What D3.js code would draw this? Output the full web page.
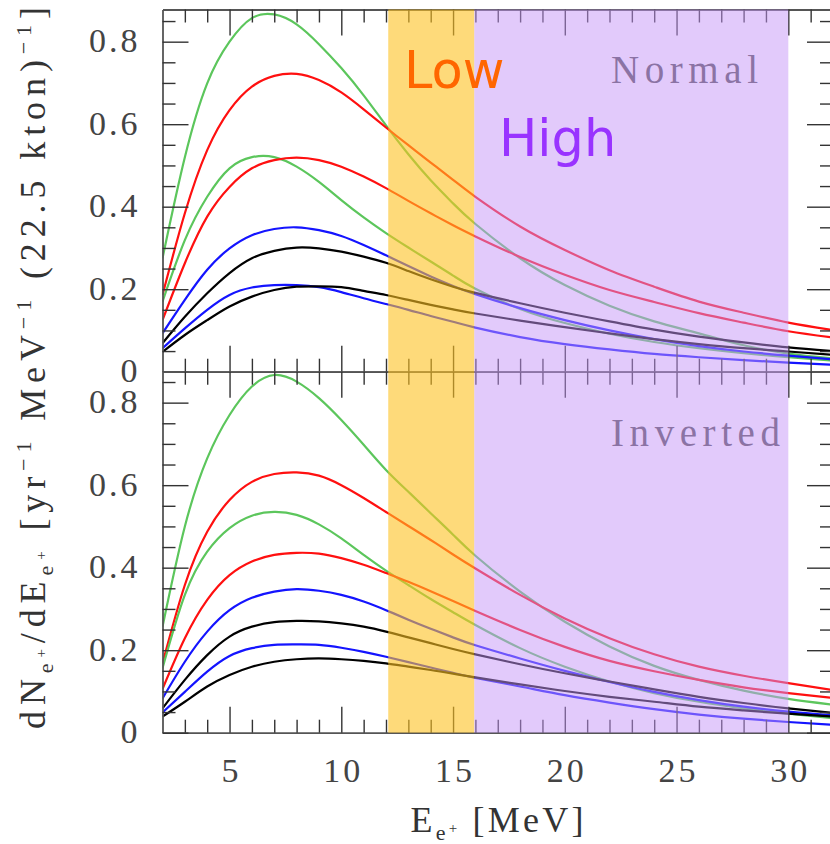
<!DOCTYPE html>
<html><head><meta charset="utf-8">
<script src="https://cdn.jsdelivr.net/npm/d3@7"></script>
<style>body{margin:0;background:#fff;} svg{display:block}</style>
</head><body>
<svg id="c" width="830" height="844"></svg>
<script>
// ---------------- data ----------------
const energies = [2,3,4,5,6,7,8,9,10,11,12,13,14,15,16,18,20,22,24,26,28,30,32];

// Normal hierarchy (top panel)
const nGreenA = [0.275,0.52,0.699,0.80,0.857,0.866,0.842,0.794,0.736,0.670,0.597,0.527,0.464,0.408,0.358,0.275,0.210,0.160,0.122,0.093,0.064,0.044,0.032];
const nRedA   = [0.186,0.384,0.537,0.634,0.691,0.717,0.722,0.707,0.677,0.636,0.592,0.549,0.507,0.465,0.424,0.352,0.295,0.246,0.206,0.170,0.143,0.119,0.101];
const nGreenB = [0.17,0.319,0.424,0.493,0.52,0.52,0.497,0.46,0.416,0.374,0.336,0.301,0.267,0.233,0.201,0.152,0.118,0.092,0.072,0.057,0.045,0.035,0.027];
const nRedB   = [0.125,0.263,0.376,0.448,0.493,0.513,0.519,0.513,0.497,0.473,0.445,0.414,0.384,0.355,0.328,0.278,0.235,0.198,0.169,0.142,0.119,0.098,0.083];
const nBlueA  = [0.093,0.174,0.247,0.299,0.331,0.346,0.35,0.343,0.329,0.307,0.282,0.256,0.231,0.208,0.188,0.154,0.125,0.100,0.079,0.062,0.049,0.039,0.030];
const nBlackA = [0.069,0.133,0.19,0.239,0.275,0.293,0.301,0.299,0.291,0.279,0.264,0.244,0.224,0.206,0.191,0.166,0.143,0.122,0.102,0.085,0.071,0.059,0.05];
const nBlueB  = [0.057,0.105,0.15,0.186,0.204,0.21,0.21,0.205,0.193,0.178,0.164,0.150,0.135,0.121,0.107,0.084,0.067,0.054,0.043,0.035,0.028,0.022,0.017];
const nBlackB = [0.048,0.089,0.125,0.158,0.182,0.198,0.206,0.207,0.205,0.196,0.186,0.174,0.162,0.151,0.141,0.124,0.108,0.093,0.079,0.067,0.057,0.049,0.041];

// Inverted hierarchy (bottom panel)
const iGreenA = [0.257,0.50,0.665,0.77,0.839,0.867,0.851,0.811,0.758,0.698,0.637,0.584,0.532,0.48,0.429,0.342,0.269,0.209,0.162,0.128,0.102,0.082,0.068];
const iRedA   = [0.168,0.358,0.487,0.564,0.608,0.627,0.631,0.623,0.60,0.569,0.535,0.501,0.467,0.432,0.398,0.334,0.277,0.229,0.19,0.16,0.138,0.12,0.103];
const iGreenB = [0.156,0.334,0.439,0.496,0.526,0.535,0.528,0.505,0.471,0.431,0.393,0.358,0.324,0.292,0.261,0.205,0.16,0.124,0.096,0.075,0.059,0.046,0.035];
const iRedB   = [0.106,0.229,0.322,0.382,0.415,0.431,0.436,0.434,0.423,0.407,0.387,0.366,0.343,0.319,0.295,0.249,0.208,0.174,0.149,0.128,0.11,0.096,0.084];
const iBlueA  = [0.083,0.172,0.245,0.297,0.327,0.342,0.348,0.344,0.334,0.318,0.297,0.274,0.252,0.231,0.212,0.18,0.15,0.123,0.099,0.079,0.063,0.051,0.042];
const iBlackA = [0.059,0.128,0.188,0.233,0.257,0.268,0.271,0.27,0.265,0.257,0.245,0.231,0.217,0.203,0.19,0.166,0.144,0.124,0.105,0.087,0.072,0.059,0.048];
const iBlueB  = [0.049,0.099,0.148,0.186,0.205,0.213,0.214,0.213,0.206,0.196,0.184,0.171,0.158,0.145,0.133,0.112,0.091,0.073,0.057,0.044,0.034,0.026,0.019];
const iBlackB = [0.039,0.075,0.112,0.14,0.16,0.172,0.178,0.18,0.178,0.174,0.168,0.16,0.152,0.143,0.134,0.117,0.101,0.087,0.075,0.063,0.054,0.046,0.039];

const xMajorTicks = [5,10,15,20,25,30];
const xMinorTicks = [3,4,6,7,8,9,11,12,13,14,16,17,18,19,21,22,23,24,26,27,28,29,31];
const yMajorTicks = [0,0.2,0.4,0.6,0.8];
const yTickLabels = ["0","0.2","0.4","0.6","0.8"];
const yMinorTicks = [0.05,0.1,0.15,0.25,0.3,0.35,0.45,0.5,0.55,0.65,0.7,0.75,0.85];
const xTickLabels = ["5","10","15","20","25","30"];

const lowBand = [12.1, 15.95];
const highBand = [15.95, 30];
const panelNames = ["Normal","Inverted"];

// ---------------- drawing ----------------
const COL = {green:"#5cc65c", red:"#ff1010", blue:"#1414ff", black:"#000000"};
const svg = d3.select("#c");
const x = d3.scaleLinear().domain([2,32]).range([162.5, 833]);
const yN = d3.scaleLinear().domain([0,0.878]).range([371.7, 9.5]);
const yI = d3.scaleLinear().domain([0,0.875]).range([732.7, 371.7]);

const panels = [
  {y:yN, name:panelNames[0], nameY:0.70, nameW:147, series:[
    [nGreenA,COL.green],[nRedA,COL.red],[nGreenB,COL.green],[nRedB,COL.red],
    [nBlueA,COL.blue],[nBlackA,COL.black],[nBlueB,COL.blue],[nBlackB,COL.black]]},
  {y:yI, name:panelNames[1], nameY:0.696, nameW:169, series:[
    [iGreenA,COL.green],[iRedA,COL.red],[iGreenB,COL.green],[iRedB,COL.red],
    [iBlueA,COL.blue],[iBlackA,COL.black],[iBlueB,COL.blue],[iBlackB,COL.black]]}
];

svg.append("defs").append("clipPath").attr("id","clip")
  .append("rect").attr("x",x(2)).attr("y",yN.range()[1]).attr("width",x(32)-x(2)).attr("height",yI(0)-yN.range()[1]);

const serif = "'Liberation Serif','DejaVu Serif',serif";

panels.forEach((p,pi)=>{
  // panel name (under the overlay)
  svg.append("text").attr("x", 611).attr("y", p.y(p.nameY))
    .attr("textLength", p.nameW).attr("lengthAdjust","spacing")
    .style("font-family",serif).style("font-size","39px").attr("fill","#505050")
    .text(p.name);

  const line = d3.line().x((d,i)=>x(energies[i])).y(d=>p.y(d)).curve(d3.curveNatural);
  const g = svg.append("g").attr("clip-path","url(#clip)");
  p.series.forEach(([vals,c])=>{
    g.append("path").attr("d", line(vals)).attr("fill","none").attr("stroke",c)
      .attr("stroke-width",2.2);
  });

  const yTop = p.y.range()[1], yBot = p.y.range()[0];
  const isBottom = pi===1;
  function styleAxis(sel, keepDomain){
    sel.selectAll(".tick line").attr("stroke","#333").attr("stroke-width",1.4);
    sel.select(".domain").attr("stroke", keepDomain?"#555":"none").attr("stroke-width",1.8);
    sel.selectAll("text").style("font-family",serif).style("font-size","34px")
      .style("letter-spacing","3px").attr("fill","#444");
  }
  // bottom axis (ticks up)
  const bMaj = svg.append("g").attr("transform",`translate(0,${yBot})`)
    .call(d3.axisBottom(x).tickValues(xMajorTicks).tickSizeInner(-26).tickSizeOuter(0).tickPadding(25)
      .tickFormat((d,i)=> isBottom ? xTickLabels[i] : ""));
  styleAxis(bMaj,true);
  bMaj.selectAll("text").attr("dx","1.5");
  styleAxis(svg.append("g").attr("transform",`translate(0,${yBot})`)
    .call(d3.axisBottom(x).tickValues(xMinorTicks).tickSizeInner(-13).tickSizeOuter(0).tickFormat("")),false);
  // top axis (ticks down)
  styleAxis(svg.append("g").attr("transform",`translate(0,${yTop})`)
    .call(d3.axisTop(x).tickValues(xMajorTicks).tickSizeInner(-26).tickSizeOuter(0).tickFormat("")),true);
  styleAxis(svg.append("g").attr("transform",`translate(0,${yTop})`)
    .call(d3.axisTop(x).tickValues(xMinorTicks).tickSizeInner(-13).tickSizeOuter(0).tickFormat("")),false);
  // left axis
  const lMaj = svg.append("g").attr("transform",`translate(${x(2)},0)`)
    .call(d3.axisLeft(p.y).tickValues(yMajorTicks).tickSizeInner(-26).tickSizeOuter(0).tickPadding(22)
      .tickFormat((d,i)=>yTickLabels[i]));
  styleAxis(lMaj,true);
  lMaj.selectAll("text").attr("dy","0.3em");
  styleAxis(svg.append("g").attr("transform",`translate(${x(2)},0)`)
    .call(d3.axisLeft(p.y).tickValues(yMinorTicks).tickSizeInner(-13).tickSizeOuter(0).tickFormat("")),false);
  // right axis
  styleAxis(svg.append("g").attr("transform",`translate(${x(32)},0)`)
    .call(d3.axisRight(p.y).tickValues(yMajorTicks).tickSizeInner(-26).tickSizeOuter(0).tickFormat("")),true);
  styleAxis(svg.append("g").attr("transform",`translate(${x(32)},0)`)
    .call(d3.axisRight(p.y).tickValues(yMinorTicks).tickSizeInner(-13).tickSizeOuter(0).tickFormat("")),false);
});

// energy bands (semi-transparent overlays)
const bandTop = yN.range()[1], bandBot = yI(0);
svg.append("rect").attr("x",x(lowBand[0])).attr("width",x(lowBand[1])-x(lowBand[0]))
  .attr("y",bandTop).attr("height",bandBot-bandTop).attr("fill","rgb(253,193,33)").attr("fill-opacity",0.6);
svg.append("rect").attr("x",x(highBand[0])).attr("width",x(highBand[1])-x(highBand[0]))
  .attr("y",bandTop).attr("height",bandBot-bandTop).attr("fill","rgb(197,150,247)").attr("fill-opacity",0.5);

svg.append("text").attr("x",404).attr("y",88).style("font-family","'DejaVu Sans',sans-serif")
  .style("font-size","51px").attr("fill","#ff6600").text("Low");
svg.append("text").attr("x",499).attr("y",156).style("font-family","'DejaVu Sans',sans-serif")
  .style("font-size","51px").attr("fill","#9933ff").text("High");

// rich text helper
function rich(sel, parts){
  let cur = 0;
  parts.forEach(([t,size,shift])=>{
    sel.append("tspan").attr("dy", shift-cur).style("font-size", size+"px").text(t);
    cur = shift;
  });
}
// y-axis title
const yl = svg.append("text").attr("transform","translate(45,368) rotate(-90)")
  .attr("text-anchor","middle").style("font-family",serif).attr("fill","#333")
  .attr("textLength",722).attr("lengthAdjust","spacing");
rich(yl, [["dN",36,0],["e",22,8],["+",15,1],["/dE",36,0],["e",22,8],["+",15,1],
  ["\u00a0[yr",36,0],["\u22121",22,-14],["\u00a0MeV",36,0],["\u22121",22,-14],
  ["\u00a0(22.5 kton)",36,0],["\u22121",22,-14],["]",36,0]]);
// x-axis title
const xl = svg.append("text").attr("x",497).attr("y",832).attr("text-anchor","middle")
  .style("font-family",serif).attr("fill","#333")
  .attr("textLength",173).attr("lengthAdjust","spacing");
rich(xl, [["E",36,0],["e",22,8],["+",15,1],["\u00a0[MeV]",36,0]]);
</script>
</body></html>
